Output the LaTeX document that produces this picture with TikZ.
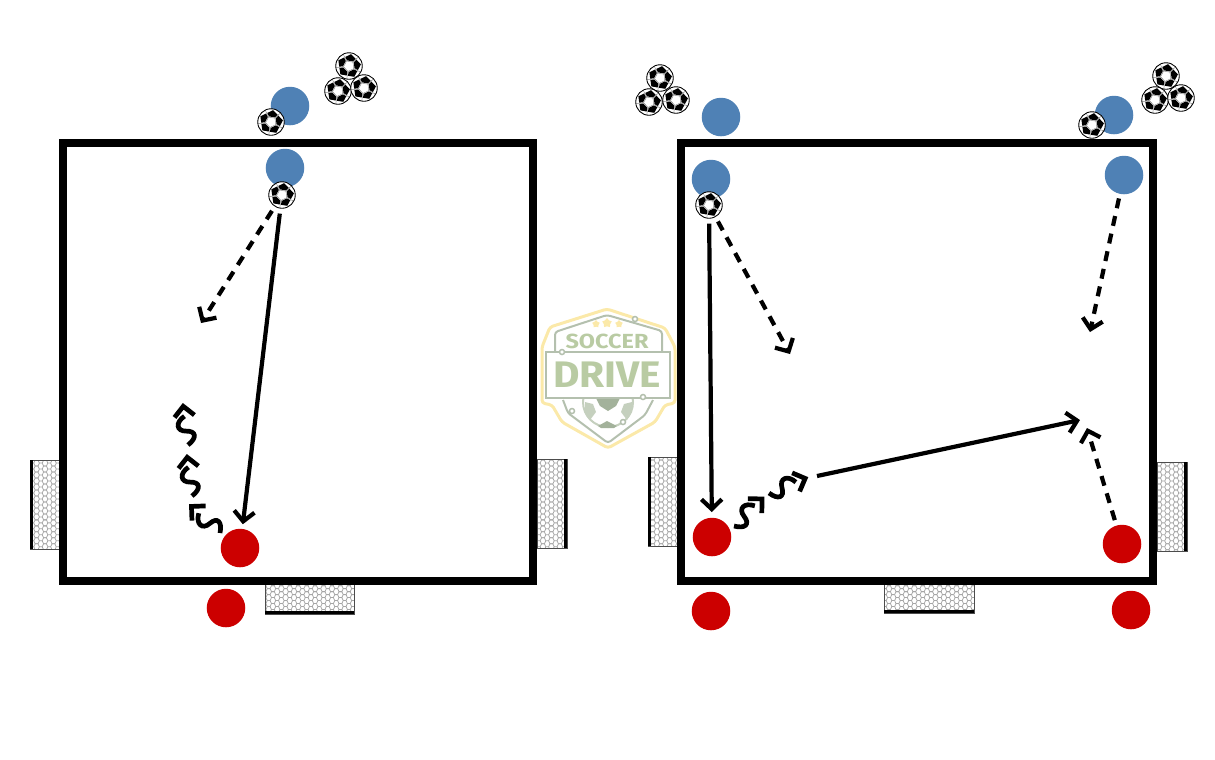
\documentclass[tikz,border=0pt]{standalone}
\usepackage{fontspec}
\setmainfont{Fira Sans}
\usetikzlibrary{arrows.meta,patterns,shapes.geometric}
\definecolor{bluep}{HTML}{4F81B5}
\definecolor{redp}{HTML}{CC0000}
\definecolor{logoyellow}{HTML}{FBE9A9}
\definecolor{logogrey}{HTML}{B4C0AE}
\definecolor{logogreen}{HTML}{B9CBA3}
\definecolor{logoball}{HTML}{A3B29B}
\definecolor{logoballb}{HTML}{C5D0BE}
\pgfdeclarepatternformonly{goalnet}{\pgfqpoint{-.2pt}{-.2pt}}{\pgfqpoint{2.6pt}{1.9pt}}{\pgfqpoint{2.4pt}{1.7pt}}{
  \pgfsetlinewidth{.22pt}
  \pgfpathmoveto{\pgfqpoint{0pt}{.85pt}}
  \pgfpathlineto{\pgfqpoint{.4pt}{0pt}}
  \pgfpathlineto{\pgfqpoint{1.2pt}{0pt}}
  \pgfpathlineto{\pgfqpoint{1.6pt}{.85pt}}
  \pgfpathlineto{\pgfqpoint{1.2pt}{1.7pt}}
  \pgfpathlineto{\pgfqpoint{.4pt}{1.7pt}}
  \pgfpathclose
  \pgfpathmoveto{\pgfqpoint{1.6pt}{.85pt}}
  \pgfpathlineto{\pgfqpoint{2.4pt}{.85pt}}
  \pgfusepath{stroke}
}
\tikzset{
  wall/.style={line width=.08cm},
  goal/.style={draw=black!70, line width=.2pt, pattern=goalnet, pattern color=black!35},
  goalback/.style={line width=.035cm},
  bluep/.style={circle, fill=bluep, inner sep=0, minimum size=.385cm},
  redp/.style={circle, fill=redp, inner sep=0, minimum size=.385cm},
  ball/.style={circle, draw, fill=white, line width=.25pt, inner sep=0, minimum size=.265cm,
    path picture={
      \begin{scope}[shift={(path picture bounding box.center)}]
        \foreach \a in {64,136,208,280,352} {
          \draw [line width=.12pt, black!50] (\a+36:5.5) -- (\a+36:13);
          \draw [line width=.12pt, black!50] (\a+36:5.5) -- (\a+108:5.5);
          \fill [black] (\a:12) -- (\a+32:9.8) -- (\a+30:6) -- (\a-30:6) -- (\a-32:9.8) -- cycle;
        }
      \end{scope}
    }},
  solidrun/.style={->, line width=.042cm},
  dashrun/.style={->, line width=.042cm, dash pattern=on .1cm off .08cm},
  pics/dribble/.style={code={
    \draw [line width=.047cm] (0,0) .. controls (6,10) and (13,10) .. (14,0) .. controls (15,-10) and (24,-10) .. (29,0);
    \draw [line width=.047cm] (29,-10) -- (39,0) -- (29,10);
  }}
}
\begin{document}
\begin{tikzpicture}[x=.01cm, y=-.01cm, >={Straight Barb[length=2.8pt,width=5.8pt]}]
  \useasboundingbox (0,0) rectangle (1215,759);

  \draw [goal] (30,460) rectangle (60,549);
  \draw [goalback] (31.5,460) -- (31.5,549);
  \draw [goal] (537,459) rectangle (567,548);
  \draw [goalback] (565.5,459) -- (565.5,548);
  \draw [goal] (265,584) rectangle (354,614);
  \draw [goalback] (265,612.5) -- (354,612.5);
  \draw [goal] (648,457) rectangle (678,546);
  \draw [goalback] (649.5,457) -- (649.5,546);
  \draw [goal] (1157,462) rectangle (1187,551);
  \draw [goalback] (1185.5,462) -- (1185.5,551);
  \draw [goal] (884,584) rectangle (974,613);
  \draw [goalback] (884,611.5) -- (974,611.5);

  \draw [wall] (63,143) rectangle (533,581);
  \draw [wall] (681,143) rectangle (1153,581);

  \node [bluep] (blueLa) at (290,106) {};
  \node [bluep] (blueLb) at (285,168) {};
  \node [redp] (redLa) at (240,548) {};
  \node [redp] (redLb) at (226,608) {};
  \node [bluep] (blueRa) at (721,117) {};
  \node [bluep] (blueRb) at (711,179) {};
  \node [bluep] (blueRc) at (1114,115) {};
  \node [bluep] (blueRd) at (1124,175) {};
  \node [redp] (redRa) at (712,537) {};
  \node [redp] (redRb) at (711,611) {};
  \node [redp] (redRc) at (1122,544) {};
  \node [redp] (redRd) at (1131,610) {};

  \node [ball] (ballLa) at (271,122) {};
  \node [ball] (ballLb) at (282,195) {};
  \node [ball] (ballLc) at (349,66) {};
  \node [ball] (ballLd) at (338,91) {};
  \node [ball] (ballLe) at (364,88) {};
  \node [ball] (ballRa) at (660,78) {};
  \node [ball] (ballRb) at (649,102) {};
  \node [ball] (ballRc) at (676,100) {};
  \node [ball] (ballRd) at (709,205) {};
  \node [ball] (ballRe) at (1166,76) {};
  \node [ball] (ballRf) at (1155,100) {};
  \node [ball] (ballRg) at (1181,98) {};
  \node [ball] (ballRh) at (1092,125) {};

  \coordinate (runLa) at (201,323);
  \coordinate (runRa) at (790,354);
  \coordinate (runRb) at (1090,332);
  \coordinate (passRa) at (817,476);
  \coordinate (passRb) at (1080,420);
  \coordinate (runRc) at (1087,428);

  \draw [solidrun, shorten <=.05cm, shorten >=.04cm] (ballLb) -- (redLa);
  \draw [dashrun, shorten <=.05cm] (ballLb) -- (runLa);
  \draw [solidrun, shorten <=.05cm, shorten >=.05cm] (ballRd) -- (redRa);
  \draw [dashrun, shorten <=.05cm] (ballRd) -- (runRa);
  \draw [dashrun, shorten <=.04cm] (blueRd) -- (runRb);
  \draw [solidrun] (passRa) -- (passRb);
  \draw [dashrun, shorten <=.05cm] (redRc) -- (runRc);

  \pic [rotate=97] at (188,445) {dribble};
  \pic [rotate=97] at (192,496) {dribble};
  \pic [rotate=137] at (220,533) {dribble};
  \pic [rotate=44] at (734,526) {dribble};
  \pic [rotate=22] at (769,493) {dribble};

  \draw [logoyellow, line width=.03cm, rounded corners=.03cm] (607,309) -- (665,328) -- (675,347) -- (675,403) -- (665,405) -- (655,422) -- (608,448) -- (562,422) -- (552,405) -- (542,403) -- (542,347) -- (550,327) -- cycle;
  \draw [logogrey, line width=.02cm, rounded corners=.03cm] (555,352) -- (555,332) -- (607,315) -- (662,331) -- (662,352);
  \draw [logogrey, line width=.02cm, rounded corners=.03cm] (563,400) -- (568,413) -- (608,443) -- (645,415) -- (653,400);
  \begin{scope}
    \clip (565,398) rectangle (652,445);
    \draw [logoballb, line width=.02cm] (608,402) circle (25);
    \fill [logoball] (596,398) -- (620,398) -- (616,406) -- (608,411) -- (600,406) -- cycle;
    \fill [logoballb] (585,402) -- (593,404) -- (596,412) -- (590,420) -- (585,412) -- cycle;
    \fill [logoballb] (632,402) -- (624,404) -- (621,412) -- (627,420) -- (632,412) -- cycle;
    \fill [logoball] (598,426) -- (607,421) -- (617,426) -- (614,428) -- (601,428) -- cycle;
  \end{scope}
  \draw [logogrey, line width=.02cm, fill=white] (546,352) rectangle (670,398);
  \draw [logogrey, line width=.015cm, fill=white] (562,352) circle (2.5);
  \draw [logogrey, line width=.015cm, fill=white] (635,319) circle (2.5);
  \draw [logogrey, line width=.015cm, fill=white] (643,397) circle (2.5);
  \draw [logogrey, line width=.015cm, fill=white] (572,411) circle (2.5);
  \draw [logogrey, line width=.015cm, fill=white] (623,422) circle (2.5);
  \node [star, star points=5, fill=logoyellow, inner sep=0, minimum size=.08cm] (starLa) at (596,324) {};
  \node [star, star points=5, fill=logoyellow, inner sep=0, minimum size=.1cm] (starLb) at (607,323) {};
  \node [star, star points=5, fill=logoyellow, inner sep=0, minimum size=.08cm] (starLc) at (619,324) {};
  \node [text=logogreen, inner sep=0, font=\bfseries\fontsize{5.8}{6}\selectfont] (logoSoccer) at (607,341) {\scalebox{1.15}[1]{SOCCER}};
  \node [text=logogreen, inner sep=0, font=\bfseries\fontsize{10.5}{11}\selectfont] (logoDrive) at (607,375) {\scalebox{1.1}[1]{DRIVE}};
\end{tikzpicture}
\end{document}
